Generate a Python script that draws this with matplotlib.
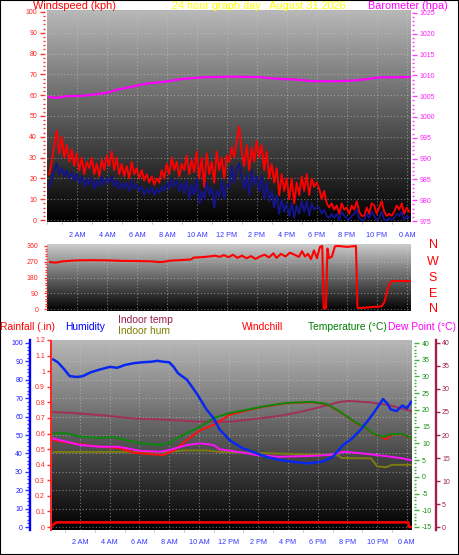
import numpy as np
import matplotlib
matplotlib.use('Agg')
import matplotlib.pyplot as plt
from matplotlib.patches import Rectangle
from matplotlib.ticker import MultipleLocator, FuncFormatter

plt.rcParams['font.family'] = ['Liberation Sans', 'DejaVu Sans']
plt.rcParams['axes.unicode_minus'] = False

# ---------------- data ----------------
hour_ticks = [2, 4, 6, 8, 10, 12, 14, 16, 18, 20, 22, 24]
hour_labels = ['2 AM', '4 AM', '6 AM', '8 AM', '10 AM', '12 PM',
               '2 PM', '4 PM', '6 PM', '8 PM', '10 PM', '0 AM']

# windspeed, 10-minute samples starting 00:09
wind_gust = [22, 28, 36, 43, 32, 40,
             30, 36, 28, 34, 26, 32,
             24, 30, 22, 28, 25, 30,
             22, 27, 21, 29, 24, 31,
             26, 33, 24, 30, 22, 27,
             21, 26, 20, 28, 22, 25,
             20, 24, 19, 22, 18, 21,
             17, 20, 18, 24, 20, 27,
             22, 30, 24, 28, 21, 27,
             24, 31, 22, 29, 23, 33,
             20, 30, 16, 32, 22, 28,
             18, 33, 24, 30, 20, 31,
             28, 35, 30, 38, 45, 33,
             26, 36, 24, 35, 28, 38,
             30, 36, 24, 33, 20, 27,
             18, 25, 12, 22, 14, 20,
             10, 20, 8, 18, 12, 21,
             14, 22, 12, 20, 16, 18,
             15, 10, 14, 8, 6, 8,
             5, 7, 3, 8, 5, 6,
             3, 7, 5, 9, 4, 2,
             2, 6, 3, 8, 7, 3,
             6, 9, 4, 2, 3, 2,
             4, 7, 5, 8, 3, 6,
             4]
wind_avg = [16, 20, 24, 27, 22, 25,
            21, 24, 20, 23, 19, 22,
            18, 21, 16, 20, 17, 20,
            15, 19, 16, 21, 17, 20,
            18, 21, 16, 19, 15, 18,
            15, 18, 14, 19, 15, 17,
            14, 16, 12, 15, 13, 16,
            12, 15, 13, 16, 14, 18,
            15, 20, 16, 19, 14, 18,
            13, 19, 10, 17, 12, 20,
            8, 14, 10, 18, 12, 16,
            6, 14, 11, 19, 10, 17,
            16, 26, 18, 25, 27, 20,
            15, 22, 12, 24, 17, 21,
            14, 21, 10, 18, 9, 14,
            6, 12, 3, 10, 4, 8,
            2, 8, 1, 7, 3, 9,
            4, 9, 2, 8, 5, 6,
            6, 3, 5, 2, 1, 3,
            1, 3, 0, 4, 2, 1,
            0, 2, 3, 5, 1, 0,
            0, 3, 1, 4, 2, 0,
            1, 4, 0, 0, 1, 0,
            1, 3, 2, 4, 0, 2,
            1]
wind_t = np.arange(len(wind_gust)) / 6 + 0.15

baro_h = [0.13, 0.6, 1.3, 2.4, 3.3, 4.0, 4.6, 5.7, 6.6, 7.9, 8.9, 10.2, 12.2,
          14.1, 15.3, 16.6, 17.7, 19.5, 20.6, 21.3, 22.1, 24.2]
baro_v = [1004.8, 1004.6, 1005.0, 1005.1, 1005.5, 1005.8, 1006.5, 1007.3,
          1008.0, 1008.5, 1009.1, 1009.5, 1009.7, 1009.6, 1009.2, 1009.0,
          1008.6, 1008.6, 1008.8, 1009.1, 1009.5, 1009.6]

dir_h = [0.2, 0.6, 1.0, 1.5, 2, 3, 4, 5, 6, 7, 7.5, 7.8, 8.2, 9, 9.6, 9.8,
         10.3, 10.8, 11.2, 11.5, 11.8, 12.1, 12.4, 12.7, 13.0, 13.3, 13.6,
         13.9, 14.2, 14.5, 14.8, 15.1, 15.3, 15.6, 15.9, 16.2, 16.5, 16.8,
         17.0, 17.2, 17.4, 17.6, 17.8, 18.0, 18.2, 18.35, 18.45, 18.6, 18.7,
         18.8, 19.0, 19.2, 19.4, 20.0, 20.6, 20.7, 20.8, 21.2, 21.8, 22.3,
         22.5, 22.8, 23.0, 23.5, 24.2]
dir_v = [268, 265, 272, 275, 278, 279, 278, 275, 274, 272, 268, 270, 276, 280,
         283, 294, 296, 300, 305, 298, 308, 296, 310, 292, 305, 290, 302, 286,
         300, 310, 295, 318, 292, 315, 300, 322, 310, 298, 330, 300, 315, 285,
         335, 290, 355, 360, 2, 5, 345, 290, 300, 358, 360, 355, 360, 10, 5, 8,
         12, 15, 40, 140, 160, 160, 160]

hum_h = [0.2, 0.5, 0.9, 1.3, 1.8, 2.2, 2.7, 3.3, 4.0, 4.5, 5.0, 5.6, 6.2, 6.8,
         7.2, 7.6, 8.0, 8.3, 8.6, 9.2, 9.9, 10.5, 11.0, 11.4, 12.1, 12.9, 13.9,
         14.6, 15.4, 16.3, 17.2, 17.8, 18.3, 19.0, 19.7, 20.3, 20.9, 21.5,
         22.0, 22.4, 22.7, 22.9, 23.3, 23.7, 24.0, 24.3]
hum_v = [91, 89.5, 86, 82, 81.5, 82, 84, 85.5, 87, 86.5, 88, 89, 89.5, 89.8,
         90.3, 89.8, 89.5, 87, 83.5, 80, 72, 64, 59, 53, 47, 43, 40, 38, 36.5,
         35.5, 34.6, 35, 35.5, 38, 44.5, 48, 53, 59, 64.7, 69.5, 67, 64, 63,
         66, 64.5, 68]

ihum_h = [0.2, 4.0, 8.0, 9.0, 10.5, 11.5, 13.0, 15.0, 17.0, 18.5, 19.4, 19.6,
          21.6, 22.0, 22.6, 23.0, 24.3]
ihum_v = [40.8, 40.8, 40.8, 41.6, 41.6, 40.8, 40.5, 40.0, 39.5, 39.2, 39.0,
          37.5, 37.3, 33.0, 32.5, 33.8, 33.8]

itemp_h = [0.2, 1.5, 3.4, 5.6, 7.9, 10.0, 12.1, 13.0, 14.3, 15.5, 16.5, 17.7,
           18.8, 19.5, 20.1, 21.5, 22.8, 24.3]
itemp_v = [25.0, 24.8, 24.3, 23.6, 23.3, 22.9, 22.9, 23.2, 23.7, 24.2, 24.8,
           25.7, 26.6, 27.2, 27.4, 27.1, 26.5, 25.2]

temp_h = [0.1, 1.1, 2.0, 3.3, 4.2, 4.6, 6.0, 7.4, 8.0, 8.7, 9.4, 10.1, 11.0,
          12.1, 13.2, 14.3, 15.9, 17.6, 18.6, 19.5, 20.6, 21.3, 21.7, 22.3,
          22.6, 23.0, 23.7, 24.3]
temp_v = [13.0, 13.0, 12.0, 11.6, 11.9, 11.5, 10.1, 9.5, 10.1, 12.0, 13.5,
          15.0, 17.6, 19.1, 20.0, 21.0, 22.1, 22.4, 21.8, 19.5, 16.1, 14.6,
          13.0, 12.0, 12.2, 12.8, 12.8, 11.6]

wc_h = [0.1, 1.1, 2.2, 3.3, 4.6, 5.6, 6.7, 7.6, 8.3, 9.2, 10.1, 11.0, 12.1,
        13.2, 14.3, 15.9, 17.6, 18.6, 19.5, 20.6, 21.3, 21.7, 22.3, 22.6,
        23.0, 23.7, 24.3]
wc_v = [11.0, 10.3, 9.6, 9.0, 8.6, 7.2, 6.8, 6.5, 7.8, 11.0, 14.0, 15.5, 18.6,
        19.8, 20.9, 22.0, 22.3, 21.7, 19.4, 16.0, 14.5, 12.9, 11.9, 11.2,
        12.7, 12.7, 11.5]

dew_h = [0.1, 1.1, 2.0, 3.3, 4.6, 6.0, 7.4, 8.0, 9.2, 10.1, 11.0, 11.4, 12.1,
         13.0, 13.9, 15.4, 17.2, 18.7, 19.8, 21.0, 22.0, 22.9, 23.6, 24.3]
dew_v = [11.5, 10.5, 9.5, 9.0, 9.0, 7.8, 7.5, 8.0, 9.5, 10.0, 9.5, 8.2, 7.8,
         7.2, 6.5, 6.0, 6.2, 6.5, 7.5, 7.0, 6.5, 6.0, 5.6, 5.0]

rain_h = [0.1, 0.4, 24.1, 24.15, 24.3]
rain_v = [0.01, 0.03, 0.03, 0.0, 0.0]

title_text = '24 hour graph day : August 31 2026'
compass = ['N', 'W', 'S', 'E', 'N']

# ---------------- layout helpers ----------------
W, H = 459, 555
fig = plt.figure(figsize=(W / 100, H / 100), dpi=100)
fig.patch.set_facecolor('white')
PT = 0.72  # points per pixel


def rect(l, t, r, b):
    return [l / W, 1 - b / H, (r - l) / W, (b - t) / H]


def ftext(x, y, s, color, size, ha='left'):
    fig.text(x / W, 1 - y / H, s, color=color, fontsize=size, ha=ha, va='center')


def bg(ax, top=0.72, bot=0.0):
    grad = np.linspace(top, bot, 256).reshape(-1, 1)
    ax.imshow(grad, cmap='gray', vmin=0, vmax=1, aspect='auto',
              extent=(0, 1, 0, 1), transform=ax.transAxes, zorder=0,
              interpolation='bilinear')


def clean(ax):
    ax.patch.set_visible(False)
    for s in ax.spines.values():
        s.set_visible(False)
    ax.set_xticks([])
    ax.set_yticks([])


def hours_xaxis(ax, xmin, xmax, labels=True, pad_px=10):
    ax.set_xlim(xmin, xmax)
    ax.set_xticks(hour_ticks)
    if labels:
        ax.set_xticklabels(hour_labels)
    else:
        ax.set_xticklabels([])
    ax.xaxis.set_minor_locator(MultipleLocator(1))
    ax.tick_params(axis='x', which='major', length=0, pad=pad_px * PT,
                   labelsize=5.2, labelcolor='#3535ff')
    ax.tick_params(axis='x', which='minor', length=2 * PT, color='#b0b0b0')


GRID = dict(color='#c8c8c8', linestyle=(0, (1, 2)), linewidth=0.8, alpha=0.55)

# ---------------- top panel: wind + barometer ----------------
axW = fig.add_axes(rect(47, 10, 411, 222))
bg(axW, 0.72, 0.0)
for s in axW.spines.values():
    s.set_visible(False)
hours_xaxis(axW, 0, 24.27)
axW.set_ylim(-0.96, 100.96)
axW.set_yticks(range(0, 101, 10))
axW.yaxis.set_minor_locator(MultipleLocator(2))
axW.spines['left'].set_position(('outward', 2 * PT))
axW.tick_params(axis='y', which='major', length=5 * PT, width=1, color='#ff3030',
                labelcolor='#ff2020', labelsize=5, pad=3 * PT)
axW.tick_params(axis='y', which='minor', length=2.5 * PT, width=1, color='#ff3030')
axW.grid(True, which='major', **GRID)
axW.set_axisbelow(False)
axW.plot(wind_t, wind_gust, color='#ff0000', lw=1.35, zorder=3)
axW.plot(wind_t, wind_avg, color='#14148c', lw=1.35, zorder=4)

axB = fig.add_axes(rect(47, 10, 411, 222))
axB.patch.set_visible(False)
for s in axB.spines.values():
    s.set_visible(False)
axB.set_xlim(0, 24.27)
axB.set_xticks([])
axB.set_ylim(974.76, 1025.72)
axB.yaxis.tick_right()
axB.set_yticks(range(975, 1026, 5))
axB.yaxis.set_minor_locator(MultipleLocator(1))
axB.spines['right'].set_position(('outward', 1 * PT))
axB.tick_params(axis='y', which='major', length=4.5 * PT, width=1, color='#ff40ff',
                labelcolor='#ff20ff', labelsize=5, pad=3.4 * PT)
axB.tick_params(axis='y', which='minor', length=2.5 * PT, width=1, color='#ff40ff')
axB.plot(baro_h, baro_v, color='#ff00ff', lw=1.6)

# ---------------- middle panel: wind direction ----------------
axD = fig.add_axes(rect(47, 244, 411, 311))
bg(axD, 0.80, 0.0)
for s in axD.spines.values():
    s.set_visible(False)
hours_xaxis(axD, 0, 24.27, labels=False)
axD.tick_params(axis='x', which='minor', length=0)
axD.set_ylim(-11.4, 371.4)
axD.set_yticks([0, 90, 180, 270, 360])
axD.yaxis.set_minor_locator(MultipleLocator(15))
axD.tick_params(axis='y', which='major', length=3.5 * PT, width=1, color='#ff3030',
                labelcolor='#ff2020', labelsize=5, pad=5 * PT)
axD.tick_params(axis='y', which='minor', length=2.5 * PT, width=1, color='#ff3030')
axD.grid(True, which='major', **GRID)
axD.plot(dir_h, dir_v, color='#ff0000', lw=1.5, zorder=3)

for lab, yy in zip(compass, [245, 262, 278, 294, 309]):
    ftext(433, yy, lab, '#ff0000', 9, ha='center')

# ---------------- bottom panel ----------------
BR = rect(52, 340, 412, 530)
BX = (0.11, 24.35)

# humidity axis (background, grid, visible blue axis, indoor hum line)
axH = fig.add_axes(BR)
bg(axH, 0.72, 0.0)
for s in axH.spines.values():
    s.set_visible(False)
hours_xaxis(axH, *BX, pad_px=9)
axH.set_ylim(-1.6, 101.6)
axH.set_yticks(range(0, 101, 10))
axH.yaxis.set_minor_locator(MultipleLocator(2))
axH.spines['left'].set_visible(True)
axH.spines['left'].set_color('#0000ff')
axH.spines['left'].set_linewidth(1.7)
axH.spines['left'].set_position(('outward', 22 * PT))
axH.spines['left'].set_bounds(-1.6, 101.6)
axH.tick_params(axis='y', which='major', length=5 * PT, width=1, color='#3030ff',
                labelcolor='#2020ff', labelsize=5, pad=2 * PT)
axH.tick_params(axis='y', which='minor', length=3 * PT, width=1, color='#3030ff')
axH.grid(True, which='major', **GRID)
axH.plot(ihum_h, ihum_v, color='#7c7c10', lw=1.4, zorder=3)

# rainfall axis
axR = fig.add_axes(BR)
axR.patch.set_visible(False)
for s in axR.spines.values():
    s.set_visible(False)
axR.set_xlim(*BX)
axR.set_xticks([])
axR.set_ylim(-0.019, 1.2)
axR.set_yticks([i / 10 for i in range(13)])
axR.yaxis.set_major_formatter(FuncFormatter(lambda v, p: '%g' % round(v, 2)))
axR.spines['left'].set_visible(True)
axR.spines['left'].set_color('#ff2020')
axR.spines['left'].set_linestyle((0, (1, 1)))
axR.spines['left'].set_linewidth(1.4)
axR.spines['left'].set_position(('outward', 1 * PT))
axR.tick_params(axis='y', which='major', length=4 * PT, width=1, color='#ff3030',
                labelcolor='#ff2020', labelsize=5, pad=2 * PT)
axR.plot(rain_h, rain_v, color='#ff0000', lw=1.8)

# indoor temperature axis
axI = fig.add_axes(BR)
axI.patch.set_visible(False)
for s in axI.spines.values():
    s.set_visible(False)
axI.set_xlim(*BX)
axI.set_xticks([])
axI.set_ylim(-0.65, 40.65)
axI.yaxis.tick_right()
axI.set_yticks(range(0, 41, 5))
axI.spines['right'].set_visible(True)
axI.spines['right'].set_color('#a0204a')
axI.spines['right'].set_linewidth(1.7)
axI.spines['right'].set_position(('outward', 24 * PT))
axI.tick_params(axis='y', which='major', length=4 * PT, width=1, color='#a0204a',
                labelcolor='#a0204a', labelsize=5, pad=2 * PT)
axI.plot(itemp_h, itemp_v, color='#a0305a', lw=1.4)

# outdoor temperature axis
axT = fig.add_axes(BR)
axT.patch.set_visible(False)
for s in axT.spines.values():
    s.set_visible(False)
axT.set_xlim(*BX)
axT.set_xticks([])
axT.set_ylim(-15.9, 40.9)
axT.yaxis.tick_right()
axT.set_yticks(range(-15, 41, 5))
axT.yaxis.set_minor_locator(MultipleLocator(1))
axT.spines['right'].set_position(('outward', 2 * PT))
axT.tick_params(axis='y', which='major', length=4.5 * PT, width=1, color='#40b040',
                labelcolor='#109010', labelsize=5, pad=3.5 * PT)
axT.tick_params(axis='y', which='minor', length=2.5 * PT, width=1, color='#40b040')
axT.plot(wc_h, wc_v, color='#ff1010', lw=1.4)
axT.plot(temp_h, temp_v, color='#0a880a', lw=1.4)
axT.plot(dew_h, dew_v, color='#ff10ff', lw=1.4)

# outdoor humidity line on top
axH2 = fig.add_axes(BR)
clean(axH2)
axH2.set_xlim(*BX)
axH2.set_ylim(-1.6, 101.6)
axH2.plot(hum_h, hum_v, color='#0828f0', lw=1.8)

# ---------------- texts ----------------
ftext(33, 6, 'Windspeed (kph)', '#ff0000', 7.8)
ftext(172, 6, title_text, '#ffff00', 7.8)
ftext(368, 6, 'Barometer (hpa)', '#ff00ff', 7.8)

ftext(0, 327, 'Rainfall (.in)', '#ff0000', 7.4)
ftext(65, 327, 'Humidity', '#0000ff', 7.4)
ftext(118, 320, 'Indoor temp', '#9c1c50', 7.4)
ftext(118, 331, 'Indoor hum', '#808000', 7.4)
ftext(242, 327, 'Windchill', '#ff0000', 7.4)
ftext(308, 327, 'Temperature (\u00b0C)', '#008000', 7.4)
ftext(388, 327, 'Dew Point (\u00b0C)', '#ff00ff', 7.4)

fig.add_artist(Rectangle((0, 0), 1, 1, transform=fig.transFigure, fill=False,
                         edgecolor='black', linewidth=1.5))

fig.savefig('out.png', dpi=100, facecolor='white')
